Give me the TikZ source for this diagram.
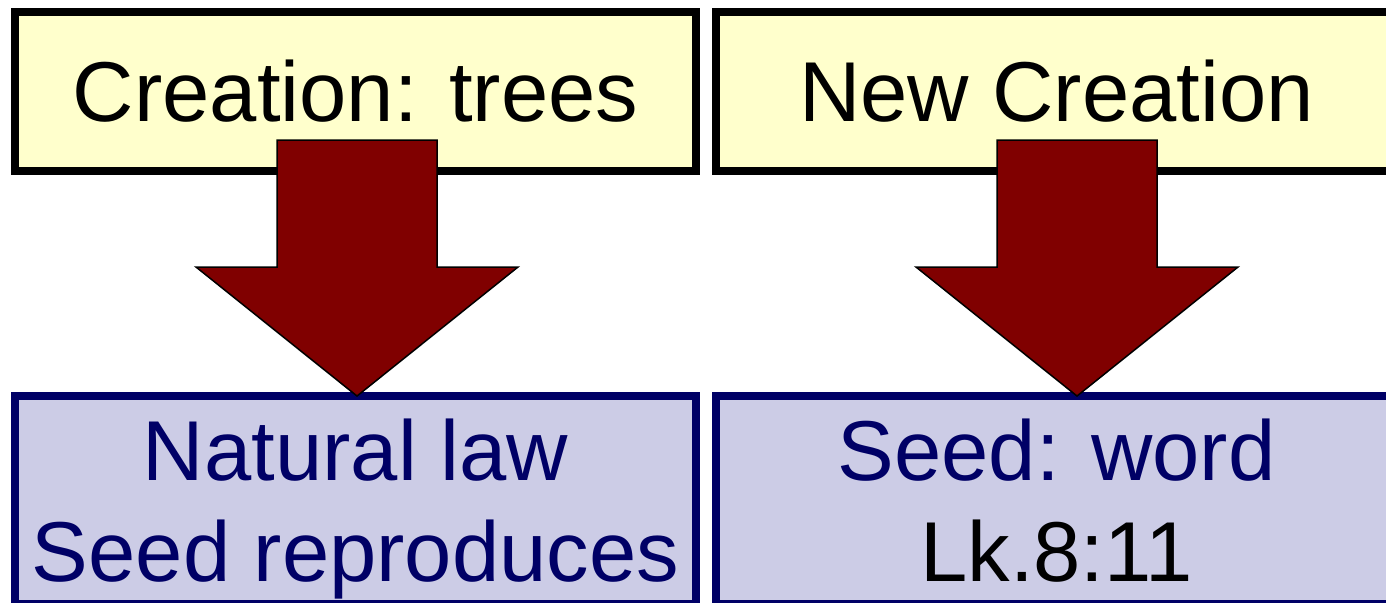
\documentclass[tikz,border=0pt]{standalone}
\usepackage{fontspec}
\setmainfont{Liberation Sans}
\definecolor{paleyellow}{HTML}{FFFFCC}
\definecolor{lavender}{HTML}{CCCCE6}
\definecolor{boxnavy}{HTML}{000066}
\definecolor{arrowred}{HTML}{800000}
\tikzset{
  topbox/.style={draw=black, line width=4pt, fill=paleyellow, inner sep=0pt,
    minimum width=340.5pt, minimum height=79.5pt, font=\fontsize{42.5}{50.5}\selectfont},
  lowbox/.style={draw=boxnavy, line width=4pt, fill=lavender, inner sep=0pt,
    minimum width=340.5pt, minimum height=104pt, align=center, text=boxnavy,
    text height=81pt, text depth=0pt, font=\fontsize{42.5}{50.5}\selectfont},
  blockarrow/.style={draw=black, line width=0.75pt, fill=arrowred}
}
\begin{document}
\begin{tikzpicture}[x=0.5pt, y=-0.5pt]
  \useasboundingbox (0,0) rectangle (1386,602);
  % boxes
  \node[topbox] (creation) at (355.5, 91.5) {Creation: trees};
  \node[topbox] (newcreation) at (1056.5, 91.5) {New Creation};
  \node[lowbox] (natlaw) at (355.5, 500) {Natural law\\Seed reproduces};
  \node[lowbox] (seedword) at (1056.5, 500) {Seed: word\\\textcolor{black}{Lk.8:11}};
  % block arrows
  \filldraw[blockarrow] (277,140) -- (437,140) -- (437,267) -- (518,267) -- (357,396) -- (196,267) -- (277,267) -- cycle;
  \filldraw[blockarrow] (997,140) -- (1157,140) -- (1157,267) -- (1238,267) -- (1077,396) -- (916,267) -- (997,267) -- cycle;
\end{tikzpicture}
\end{document}
